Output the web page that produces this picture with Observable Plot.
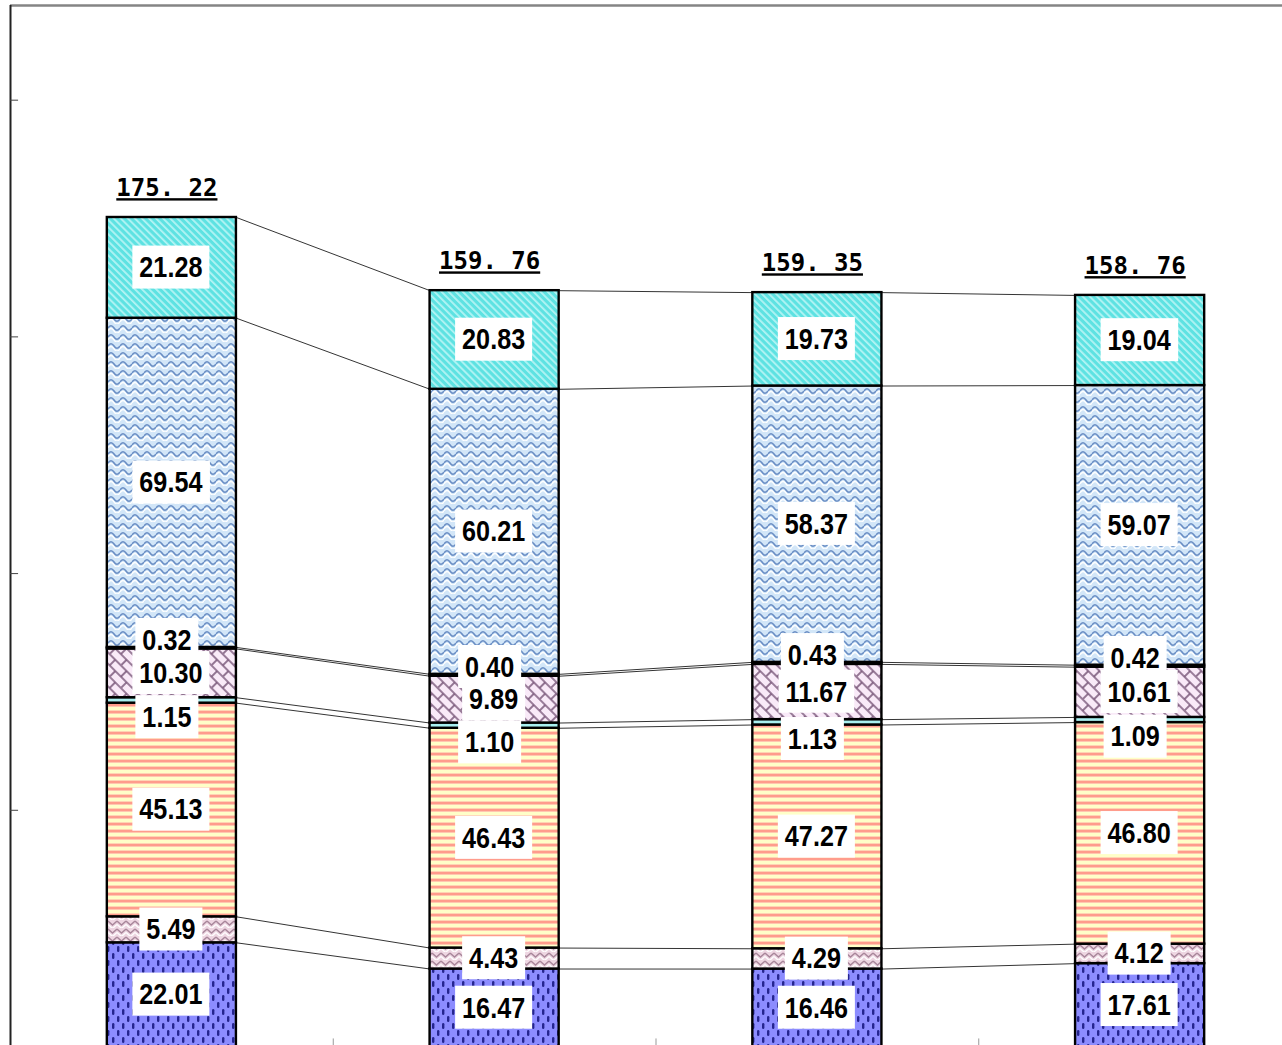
<!DOCTYPE html>
<html><head><meta charset="utf-8">
<script src="https://cdn.jsdelivr.net/npm/d3@7"></script>
<script src="https://cdn.jsdelivr.net/npm/@observablehq/plot@0.6"></script>
<style>
html,body{margin:0;padding:0;background:#fff;}
#wrap{width:1282px;height:1045px;overflow:hidden;position:relative;background:#fff;}
</style></head>
<body>
<svg width="0" height="0" style="position:absolute">
<defs>
<pattern id="p1" patternUnits="userSpaceOnUse" width="10" height="14">
<rect width="10" height="14" fill="#8c8cff"/>
<rect x="2" y="1" width="2.4" height="6" rx="1.2" fill="#25258f"/>
<rect x="7" y="8" width="2.4" height="6" rx="1.2" fill="#25258f"/>
</pattern>
<pattern id="p2" patternUnits="userSpaceOnUse" width="9" height="8">
<rect width="9" height="8" fill="#eed6e2"/>
<path d="M0,1 L4.5,5 L9,1" fill="none" stroke="#a8869a" stroke-width="1.4"/>
<path d="M0,4.5 L4.5,8.5 L9,4.5" fill="none" stroke="#ffffff" stroke-width="1.3"/>
</pattern>
<pattern id="p3" patternUnits="userSpaceOnUse" width="4" height="7">
<rect width="4" height="7" fill="#ffffc8"/>
<rect y="3" width="4" height="1" fill="#ffd4b4"/>
<rect y="4" width="4" height="2" fill="#ff9c8c"/>
<rect y="6" width="4" height="1" fill="#ffc8b0"/>
</pattern>
<pattern id="p5" patternUnits="userSpaceOnUse" width="16" height="16" patternTransform="rotate(45)">
<rect width="16" height="16" fill="#f9eaf8"/>
<path d="M0,1 H16 M0,9 H16 M4,1 V9 M12,9 V16" stroke="#7a587a" stroke-width="1.6" fill="none"/>
</pattern>
<pattern id="p7" patternUnits="userSpaceOnUse" width="12" height="9">
<rect width="12" height="9" fill="#d2e6f8"/>
<path d="M0,4 Q3,-0.5 6,4 T12,4" fill="none" stroke="#6a8ec4" stroke-width="1.6"/>
<path d="M0,6.8 Q3,2.3 6,6.8 T12,6.8" fill="none" stroke="#ffffff" stroke-width="1.4"/>
</pattern>
<pattern id="p8" patternUnits="userSpaceOnUse" width="5" height="5" patternTransform="rotate(-45)">
<rect width="5" height="5" fill="#5ee2e2"/>
<rect width="1.8" height="5" fill="#b4f4f4"/>
</pattern>
</defs>
</svg>
<div id="wrap"></div>
<script>
// ---- data (bottom segment first) ----
const categories = ["1", "2", "3", "4"];
const seriesNames = ["A", "B", "C", "D", "E", "F", "G", "H"];
const sA = [22.01, 16.47, 16.46, 17.61];
const sB = [5.49, 4.43, 4.29, 4.12];
const sC = [45.13, 46.43, 47.27, 46.80];
const sD = [1.15, 1.10, 1.13, 1.09];
const sE = [10.30, 9.89, 11.67, 10.61];
const sF = [0.32, 0.40, 0.43, 0.42];
const sG = [69.54, 60.21, 58.37, 59.07];
const sH = [21.28, 20.83, 19.73, 19.04];
const totals = [175.22, 159.76, 159.35, 158.76];
const yTicks = [50, 100, 150, 200];
const patternFills = ["url(#p1)", "url(#p2)", "url(#p3)", "#a8f0f0", "url(#p5)", "#000000", "url(#p7)", "url(#p8)"];

const seriesValues = [sA, sB, sC, sD, sE, sF, sG, sH];
const half = 0.2;
const rows = [];
categories.forEach((c, i) => {
  let base = 0;
  seriesValues.forEach((vals, j) => {
    rows.push({cat: c, i, j, series: seriesNames[j], value: vals[i], y1: base, y2: base + vals[i]});
    base += vals[i];
  });
});
const links = [];
for (let i = 0; i < categories.length - 1; i++) {
  for (let j = 0; j < seriesNames.length; j++) {
    const a = rows.find(r => r.i === i && r.j === j);
    const b = rows.find(r => r.i === i + 1 && r.j === j);
    links.push({x1: i + 0.5 + half, x2: i + 1.5 - half, y1: a.y2, y2: b.y2});
  }
}
const totalRows = categories.map((c, i) => ({i, total: totals[i]}));
const fmt = d => d.value.toFixed(2);
const labelStyle = {fontFamily: "Liberation Sans, Arial, sans-serif", fontWeight: "bold", fontSize: 30, fill: "#000", ariaDescription: "seglabel"};
const mid = d => (d.y1 + d.y2) / 2;
const cx = d => d.i + 0.5;

const svg = Plot.plot({
  width: 1302,
  height: 1048,
  marginLeft: 10,
  marginRight: 1,
  marginTop: 5,
  marginBottom: 1.5,
  x: {domain: [0, 4], range: [10, 1301], axis: null},
  y: {domain: [0, 220], range: [1046.5, 5], axis: null},
  color: {domain: seriesNames, range: patternFills},
  marks: [
    Plot.link(links, {x1: "x1", y1: "y1", x2: "x2", y2: "y2", stroke: "#000", strokeWidth: 0.8}),
    Plot.rect(rows, {x1: d => d.i + 0.5 - half, x2: d => d.i + 0.5 + half, y1: "y1", y2: "y2", fill: "series", stroke: "#000", strokeWidth: 2.4}),
    Plot.ruleY([220], {stroke: "#858585", strokeWidth: 2.5}),
    Plot.ruleX([0], {stroke: "#222", strokeWidth: 2}),
    Plot.ruleY(yTicks, {x1: 0, x2: 0.025, stroke: "#444", strokeWidth: 1}),
    Plot.ruleX([1, 2, 3], {y1: 0, y2: 1.7, stroke: "#999", strokeWidth: 1}),
    Plot.text(rows.filter(d => d.j !== 3 && d.j !== 5), {x: cx, y: mid, text: fmt, dx: -1, dy: 9.5, ...labelStyle}),
    Plot.text(rows.filter(d => d.j === 3), {x: cx, y: mid, text: fmt, dx: -5, dy: 26.5, ...labelStyle}),
    Plot.text(rows.filter(d => d.j === 5), {x: cx, y: mid, text: fmt, dx: -5, dy: 1.5, ...labelStyle}),
    Plot.text(totalRows, {x: cx, y: "total", text: d => d.total.toFixed(2).replace(".", ". "), dx: -5, dy: -29,
      fontFamily: "DejaVu Sans Mono, monospace", fontWeight: "bold", fontSize: 24, fill: "#000", ariaDescription: "totals"})
  ]
});
svg.style.maxWidth = "none";
document.getElementById("wrap").appendChild(svg);

// condense the segment labels horizontally
const labelGroups = svg.querySelectorAll('g[aria-description="seglabel"]');
const labels = svg.querySelectorAll('g[aria-description="seglabel"] text');
labels.forEach(el => {
  let t = el.getAttribute("transform") || "";
  if (el.hasAttribute("x") || el.hasAttribute("y")) {
    const x = +el.getAttribute("x") || 0, y = +el.getAttribute("y") || 0;
    el.removeAttribute("x"); el.removeAttribute("y");
    t += ` translate(${x},${y})`;
  }
  el.setAttribute("transform", t + " scale(0.84,1)");
});
// white boxes behind labels
const ns = "http://www.w3.org/2000/svg";
const svgRect = svg.getBoundingClientRect();
const boxG = document.createElementNS(ns, "g");
labels.forEach(el => {
  const r = el.getBoundingClientRect();
  const ccx = r.left + r.width / 2 - svgRect.left;
  const ccy = r.top + r.height / 2 - svgRect.top;
  const w = r.width + 14, h = 43;
  const rect = document.createElementNS(ns, "rect");
  rect.setAttribute("x", ccx - w / 2);
  rect.setAttribute("y", ccy - h / 2);
  rect.setAttribute("width", w);
  rect.setAttribute("height", h);
  rect.setAttribute("fill", "#fff");
  boxG.appendChild(rect);
});
if (labelGroups.length) labelGroups[0].parentNode.insertBefore(boxG, labelGroups[0]);
// underline totals
svg.querySelectorAll('g[aria-description="totals"] text').forEach(el => {
  el.style.textDecoration = "underline";
  el.style.textDecorationThickness = "2.5px";
  el.style.textUnderlineOffset = "3px";
});
</script>
</body></html>
